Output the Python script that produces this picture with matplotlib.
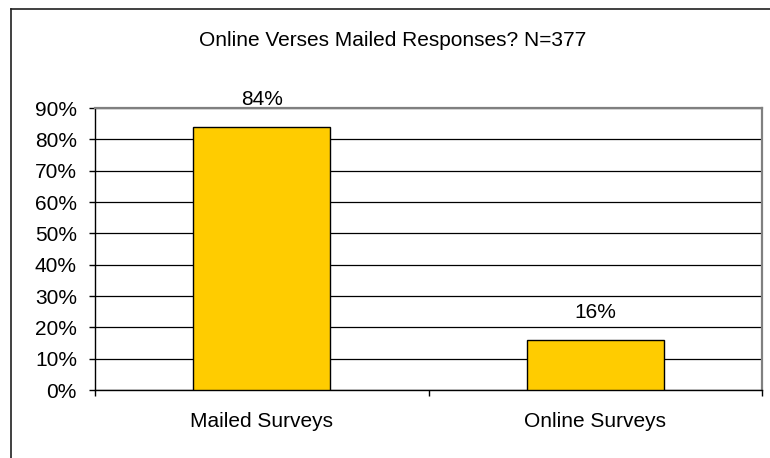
'''
plot
-----------------------------------------------------------
online verses mailed survey responses
'''
# Load packages -------------------------------------------
import matplotlib
matplotlib.use('Agg')
import matplotlib.pyplot as plt
from matplotlib.lines import Line2D
from matplotlib.ticker import FixedLocator, PercentFormatter

# Data ----------------------------------------------------
categories = ['Mailed Surveys', 'Online Surveys']
shares = [84, 16]
y_ticks = [0, 10, 20, 30, 40, 50, 60, 70, 80, 90]
title = 'Online Verses Mailed Responses? N=377'

# Figure --------------------------------------------------
W, H = 770, 458
fs = 15
plt.rcParams['font.family'] = ['Liberation Sans', 'DejaVu Sans']
fig = plt.figure(figsize=(W / 100, H / 100), dpi=100)

# Outer chart frame (left and top edges only visible):
fig.add_artist(Line2D([11 / W, 11 / W], [0, 1 - 9 / H],
                      transform=fig.transFigure, color='#202020', lw=1.2))
fig.add_artist(Line2D([11 / W, 1], [1 - 9 / H, 1 - 9 / H],
                      transform=fig.transFigure, color='#202020', lw=1.2))

# Plot area:
left, right, top, bottom = 95, 762, 108, 390
ax = fig.add_axes([left / W, 1 - bottom / H, (right - left) / W, (bottom - top) / H])

# Bars ----------------------------------------------------
x = list(range(len(categories)))
bars = ax.bar(x, shares, width=0.41, color='#FFCC00', edgecolor='black',
              linewidth=1.0, zorder=3)

# Data labels:
for xi, v in zip(x, shares):
    ax.annotate(f'{v}%', (xi, v), xytext=(0, 16), textcoords='offset points',
                ha='center', va='baseline', fontsize=fs)

# Axes ----------------------------------------------------
ax.set_xlim(-0.5, len(categories) - 0.5)
ax.set_ylim(0, 90)
ax.set_yticks(y_ticks)
ax.yaxis.set_major_formatter(PercentFormatter(decimals=0))
ax.grid(axis='y', color='black', linewidth=0.9, zorder=0)

ax.xaxis.set_major_locator(FixedLocator([i - 0.5 for i in range(len(categories) + 1)]))
ax.xaxis.set_major_formatter(plt.NullFormatter())
ax.set_xticks(x, minor=True)
ax.set_xticklabels(categories, minor=True)
ax.tick_params(axis='x', which='minor', length=0, pad=16, labelsize=fs)
ax.tick_params(axis='x', which='major', length=4.5, width=1, direction='out')
ax.tick_params(axis='y', length=4.5, width=1, direction='out', labelsize=fs, pad=8.5)

for s in ['left', 'bottom']:
    ax.spines[s].set_color('black')
    ax.spines[s].set_linewidth(1.0)
for s in ['top', 'right']:
    ax.spines[s].set_color('#808080')
    ax.spines[s].set_linewidth(1.6)

# Title:
fig.text(393 / W, 1 - 40 / H, title, ha='center', va='center', fontsize=fs)

# Save plot:
fig.savefig('out.png', dpi=100)
